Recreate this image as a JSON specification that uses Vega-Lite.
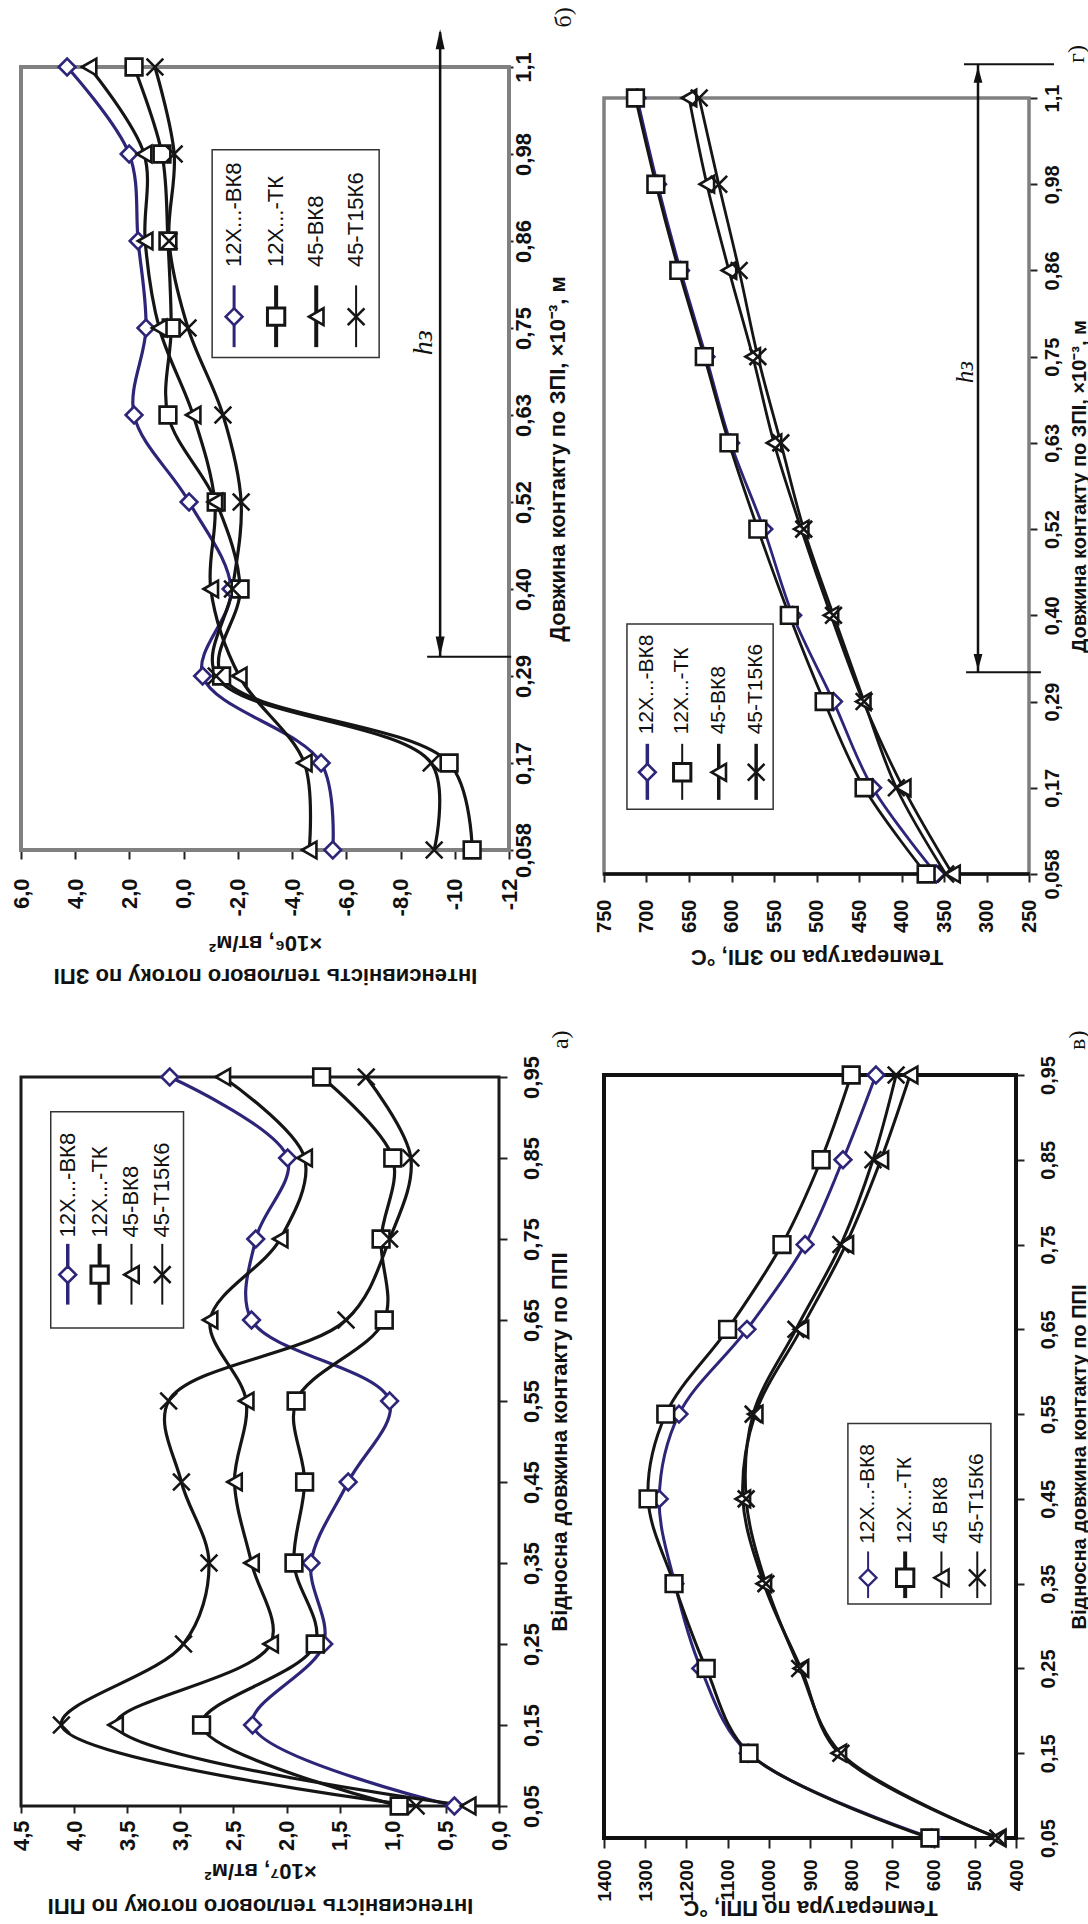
{
"$schema": "https://vega.github.io/schema/vega-lite/v6.json",
"padding": 0,
"background": "white",
"config": {
  "font": "Liberation Sans",
  "view": {"stroke": null},
  "axis": {"labelColor": "#111", "titleColor": "#111", "labelOverlap": false, "labelFlush": false, "labelBound": false, "domain": false, "tickColor": "#222", "tickWidth": 2, "gridColor": "#222", "gridWidth": 1.8, "gridOpacity": 1, "labelFontWeight": "bold", "titleFontWeight": "bold", "labelFont": "Liberation Sans", "titleFont": "Liberation Sans"},
  "axisX": {"labelAngle": 270, "labelAlign": "right", "labelBaseline": "middle", "titleAngle": 180, "titleBaseline": "bottom", "titleAlign": "center"},
  "axisY": {"labelAngle": 270, "labelAlign": "center", "labelBaseline": "top", "titleAngle": 270, "titleBaseline": "top", "titleAlign": "center"}
},
"datasets": {
  "one": [{}],
  "q3": [
    {"s":"12Х...-ВК8","i":0,"v":-5.5},{"s":"12Х...-ВК8","i":1,"v":-5.07},{"s":"12Х...-ВК8","i":2,"v":-0.7},{"s":"12Х...-ВК8","i":3,"v":-1.75},{"s":"12Х...-ВК8","i":4,"v":-0.2},{"s":"12Х...-ВК8","i":5,"v":1.83},{"s":"12Х...-ВК8","i":6,"v":1.39},{"s":"12Х...-ВК8","i":7,"v":1.68},{"s":"12Х...-ВК8","i":8,"v":2.01},{"s":"12Х...-ВК8","i":9,"v":4.3},
    {"s":"12Х...-ТК","i":0,"v":-10.64},{"s":"12Х...-ТК","i":1,"v":-9.79},{"s":"12Х...-ТК","i":2,"v":-1.4},{"s":"12Х...-ТК","i":3,"v":-2.08},{"s":"12Х...-ТК","i":4,"v":-1.2},{"s":"12Х...-ТК","i":5,"v":0.58},{"s":"12Х...-ТК","i":6,"v":0.46},{"s":"12Х...-ТК","i":7,"v":0.58},{"s":"12Х...-ТК","i":8,"v":0.8},{"s":"12Х...-ТК","i":9,"v":1.83},
    {"s":"45-ВК8","i":0,"v":-4.63},{"s":"45-ВК8","i":1,"v":-4.45},{"s":"45-ВК8","i":2,"v":-2.05},{"s":"45-ВК8","i":3,"v":-1.0},{"s":"45-ВК8","i":4,"v":-1.15},{"s":"45-ВК8","i":5,"v":-0.35},{"s":"45-ВК8","i":6,"v":0.9},{"s":"45-ВК8","i":7,"v":1.42},{"s":"45-ВК8","i":8,"v":1.46},{"s":"45-ВК8","i":9,"v":3.49},
    {"s":"45-Т15К6","i":0,"v":-9.24},{"s":"45-Т15К6","i":1,"v":-9.13},{"s":"45-Т15К6","i":2,"v":-1.2},{"s":"45-Т15К6","i":3,"v":-1.8},{"s":"45-Т15К6","i":4,"v":-2.12},{"s":"45-Т15К6","i":5,"v":-1.45},{"s":"45-Т15К6","i":6,"v":-0.16},{"s":"45-Т15К6","i":7,"v":0.54},{"s":"45-Т15К6","i":8,"v":0.35},{"s":"45-Т15К6","i":9,"v":1.06}
  ],
  "t3": [
    {"s":"12Х...-ВК8","i":0,"v":359},{"s":"12Х...-ВК8","i":1,"v":434},{"s":"12Х...-ВК8","i":2,"v":480},{"s":"12Х...-ВК8","i":3,"v":528},{"s":"12Х...-ВК8","i":4,"v":562},{"s":"12Х...-ВК8","i":5,"v":601},{"s":"12Х...-ВК8","i":6,"v":630},{"s":"12Х...-ВК8","i":7,"v":660},{"s":"12Х...-ВК8","i":8,"v":687},{"s":"12Х...-ВК8","i":9,"v":711},
    {"s":"12Х...-ТК","i":0,"v":371},{"s":"12Х...-ТК","i":1,"v":444},{"s":"12Х...-ТК","i":2,"v":491},{"s":"12Х...-ТК","i":3,"v":532},{"s":"12Х...-ТК","i":4,"v":569},{"s":"12Х...-ТК","i":5,"v":603},{"s":"12Х...-ТК","i":6,"v":632},{"s":"12Х...-ТК","i":7,"v":662},{"s":"12Х...-ТК","i":8,"v":689},{"s":"12Х...-ТК","i":9,"v":713},
    {"s":"45-ВК8","i":0,"v":340},{"s":"45-ВК8","i":1,"v":398},{"s":"45-ВК8","i":2,"v":445},{"s":"45-ВК8","i":3,"v":483},{"s":"45-ВК8","i":4,"v":518},{"s":"45-ВК8","i":5,"v":550},{"s":"45-ВК8","i":6,"v":575},{"s":"45-ВК8","i":7,"v":603},{"s":"45-ВК8","i":8,"v":629},{"s":"45-ВК8","i":9,"v":650},
    {"s":"45-Т15К6","i":0,"v":348},{"s":"45-Т15К6","i":1,"v":406},{"s":"45-Т15К6","i":2,"v":444},{"s":"45-Т15К6","i":3,"v":480},{"s":"45-Т15К6","i":4,"v":515},{"s":"45-Т15К6","i":5,"v":542},{"s":"45-Т15К6","i":6,"v":569},{"s":"45-Т15К6","i":7,"v":591},{"s":"45-Т15К6","i":8,"v":615},{"s":"45-Т15К6","i":9,"v":638}
  ],
  "q1": [
    {"s":"12Х...-ВК8","i":0,"v":0.42},{"s":"12Х...-ВК8","i":1,"v":2.32},{"s":"12Х...-ВК8","i":2,"v":1.65},{"s":"12Х...-ВК8","i":3,"v":1.77},{"s":"12Х...-ВК8","i":4,"v":1.42},{"s":"12Х...-ВК8","i":5,"v":1.03},{"s":"12Х...-ВК8","i":6,"v":2.33},{"s":"12Х...-ВК8","i":7,"v":2.29},{"s":"12Х...-ВК8","i":8,"v":1.99},{"s":"12Х...-ВК8","i":9,"v":3.1},
    {"s":"12Х...-ТК","i":0,"v":0.94},{"s":"12Х...-ТК","i":1,"v":2.8},{"s":"12Х...-ТК","i":2,"v":1.73},{"s":"12Х...-ТК","i":3,"v":1.93},{"s":"12Х...-ТК","i":4,"v":1.83},{"s":"12Х...-ТК","i":5,"v":1.91},{"s":"12Х...-ТК","i":6,"v":1.08},{"s":"12Х...-ТК","i":7,"v":1.11},{"s":"12Х...-ТК","i":8,"v":1.0},{"s":"12Х...-ТК","i":9,"v":1.67},
    {"s":"45-ВК8","i":0,"v":0.29},{"s":"45-ВК8","i":1,"v":3.61},{"s":"45-ВК8","i":2,"v":2.15},{"s":"45-ВК8","i":3,"v":2.33},{"s":"45-ВК8","i":4,"v":2.49},{"s":"45-ВК8","i":5,"v":2.38},{"s":"45-ВК8","i":6,"v":2.72},{"s":"45-ВК8","i":7,"v":2.06},{"s":"45-ВК8","i":8,"v":1.83},{"s":"45-ВК8","i":9,"v":2.6},
    {"s":"45-Т15К6","i":0,"v":0.78},{"s":"45-Т15К6","i":1,"v":4.12},{"s":"45-Т15К6","i":2,"v":2.97},{"s":"45-Т15К6","i":3,"v":2.73},{"s":"45-Т15К6","i":4,"v":2.99},{"s":"45-Т15К6","i":5,"v":3.11},{"s":"45-Т15К6","i":6,"v":1.44},{"s":"45-Т15К6","i":7,"v":1.03},{"s":"45-Т15К6","i":8,"v":0.83},{"s":"45-Т15К6","i":9,"v":1.25}
  ],
  "t1": [
    {"s":"12Х...-ВК8","i":0,"v":605},{"s":"12Х...-ВК8","i":1,"v":1050},{"s":"12Х...-ВК8","i":2,"v":1165},{"s":"12Х...-ВК8","i":3,"v":1228},{"s":"12Х...-ВК8","i":4,"v":1266},{"s":"12Х...-ВК8","i":5,"v":1218},{"s":"12Х...-ВК8","i":6,"v":1053},{"s":"12Х...-ВК8","i":7,"v":912},{"s":"12Х...-ВК8","i":8,"v":820},{"s":"12Х...-ВК8","i":9,"v":740},
    {"s":"12Х...-ТК","i":0,"v":609},{"s":"12Х...-ТК","i":1,"v":1048},{"s":"12Х...-ТК","i":2,"v":1152},{"s":"12Х...-ТК","i":3,"v":1230},{"s":"12Х...-ТК","i":4,"v":1293},{"s":"12Х...-ТК","i":5,"v":1250},{"s":"12Х...-ТК","i":6,"v":1100},{"s":"12Х...-ТК","i":7,"v":968},{"s":"12Х...-ТК","i":8,"v":873},{"s":"12Х...-ТК","i":9,"v":800},
    {"s":"45-ВК8","i":0,"v":443},{"s":"45-ВК8","i":1,"v":830},{"s":"45-ВК8","i":2,"v":922},{"s":"45-ВК8","i":3,"v":1012},{"s":"45-ВК8","i":4,"v":1063},{"s":"45-ВК8","i":5,"v":1033},{"s":"45-ВК8","i":6,"v":922},{"s":"45-ВК8","i":7,"v":813},{"s":"45-ВК8","i":8,"v":728},{"s":"45-ВК8","i":9,"v":657},
    {"s":"45-Т15К6","i":0,"v":444},{"s":"45-Т15К6","i":1,"v":825},{"s":"45-Т15К6","i":2,"v":925},{"s":"45-Т15К6","i":3,"v":1007},{"s":"45-Т15К6","i":4,"v":1055},{"s":"45-Т15К6","i":5,"v":1038},{"s":"45-Т15К6","i":6,"v":934},{"s":"45-Т15К6","i":7,"v":825},{"s":"45-Т15К6","i":8,"v":747},{"s":"45-Т15К6","i":9,"v":691}
  ]
},
"spacing": 5,
"hconcat": [
 {"spacing": 10, "vconcat": [
  {"width": 488, "height": 783, "layer": [
    {"data":{"name":"one"},"mark":{"type":"rect","fill":"transparent","stroke":"#808080","strokeWidth":4},"encoding":{"x":{"datum":6,"type":"quantitative"},"x2":{"datum":-12},"y":{"datum":0,"type":"quantitative"},"y2":{"datum":9}}},
    {"data":{"name":"q3"},"mark":{"type":"line","interpolate":"catmull-rom","strokeWidth":3.2},
     "encoding":{
      "x":{"field":"v","type":"quantitative","scale":{"domain":[-12,6],"reverse":true,"nice":false,"zero":false},
        "axis":{"values":[6,4,2,0,-2,-4,-6,-8,-10,-12],"labelExpr":"(datum.value < 0 ? '-' : '') + replace(format(abs(datum.value), datum.value < -9 ? 'd' : '.1f'), '.', ',')","labelFontSize":22,"labelPadding":19,"tickSize":9,"gridWidth":2,"title":["Інтенсивність теплового потоку по ЗПІ","×10⁶, вт/м²"],"titleFontSize":22,"titleLineHeight":33,"titleY":113}},
      "y":{"field":"i","type":"quantitative","scale":{"domain":[0,9],"nice":false,"zero":false},
        "axis":{"orient":"right","values":[0,1,2,3,4,5,6,7,8,9],"labelExpr":"['0,058','0,17','0,29','0,40','0,52','0,63','0,75','0,86','0,98','1,1'][datum.value]","labelFontSize":22,"labelPadding":0,"tickSize":4,"gridWidth":1.6,"title":"Довжина контакту по ЗПІ, ×10⁻³, м","titleFontSize":22,"titleX":38}},
      "order":{"field":"i","type":"quantitative"},
      "stroke":{"field":"s","type":"nominal","scale":{"domain":["12Х...-ВК8","12Х...-ТК","45-ВК8","45-Т15К6"],"range":["#2d2578","#151515","#151515","#151515"]},"legend":null}}},
    {"data":{"name":"q3"},"mark":{"type":"point","filled":true,"fill":"white","size":280,"strokeWidth":2.6,"opacity":1},
     "encoding":{"x":{"field":"v","type":"quantitative"},"y":{"field":"i","type":"quantitative"},
      "stroke":{"field":"s","type":"nominal","legend":null},
      "shape":{"field":"s","type":"nominal","scale":{"domain":["12Х...-ВК8","12Х...-ТК","45-ВК8","45-Т15К6"],"range":["diamond","square","triangle-left","M-1,-1L1,1M-1,1L1,-1"]},"legend":null}}},
    {"data":{"name":"one"},"mark":{"type":"rect","fill":"white","stroke":"#333","strokeWidth":1.5},"encoding":{"x":{"datum":-1.05,"type":"quantitative"},"x2":{"datum":-7.21},"y":{"datum":8.05,"type":"quantitative"},"y2":{"datum":5.66}}},
    {"data":{"name":"one"},"encoding":{"x":{"datum":-1.86,"type":"quantitative"}},"layer":[
      {"mark":{"type":"rule","stroke":"#2d2578","strokeWidth":3},"encoding":{"y":{"datum":6.49,"type":"quantitative"},"y2":{"datum":5.78}}},
      {"mark":{"type":"point","shape":"diamond","size":280,"filled":true,"fill":"white","stroke":"#2d2578","strokeWidth":2.6,"opacity":1},"encoding":{"y":{"datum":6.13,"type":"quantitative"}}},
      {"mark":{"type":"text","text":"12Х...-ВК8","angle":270,"align":"left","baseline":"middle","fontSize":22,"color":"#111"},"encoding":{"y":{"datum":6.7,"type":"quantitative"}}}]},
    {"data":{"name":"one"},"encoding":{"x":{"datum":-3.41,"type":"quantitative"}},"layer":[
      {"mark":{"type":"rule","stroke":"#151515","strokeWidth":4},"encoding":{"y":{"datum":6.49,"type":"quantitative"},"y2":{"datum":5.78}}},
      {"mark":{"type":"point","shape":"square","size":300,"filled":true,"fill":"white","stroke":"#151515","strokeWidth":3,"opacity":1},"encoding":{"y":{"datum":6.13,"type":"quantitative"}}},
      {"mark":{"type":"text","text":"12Х...-ТК","angle":270,"align":"left","baseline":"middle","fontSize":22,"color":"#111"},"encoding":{"y":{"datum":6.7,"type":"quantitative"}}}]},
    {"data":{"name":"one"},"encoding":{"x":{"datum":-4.89,"type":"quantitative"}},"layer":[
      {"mark":{"type":"rule","stroke":"#151515","strokeWidth":4},"encoding":{"y":{"datum":6.49,"type":"quantitative"},"y2":{"datum":5.78}}},
      {"mark":{"type":"point","shape":"triangle-left","size":280,"filled":true,"fill":"white","stroke":"#151515","strokeWidth":2.6,"opacity":1},"encoding":{"y":{"datum":6.13,"type":"quantitative"}}},
      {"mark":{"type":"text","text":"45-ВК8","angle":270,"align":"left","baseline":"middle","fontSize":22,"color":"#111"},"encoding":{"y":{"datum":6.7,"type":"quantitative"}}}]},
    {"data":{"name":"one"},"encoding":{"x":{"datum":-6.36,"type":"quantitative"}},"layer":[
      {"mark":{"type":"rule","stroke":"#151515","strokeWidth":2},"encoding":{"y":{"datum":6.49,"type":"quantitative"},"y2":{"datum":5.78}}},
      {"mark":{"type":"point","shape":"M-1,-1L1,1M-1,1L1,-1","size":280,"filled":true,"fill":"white","stroke":"#151515","strokeWidth":2.6,"opacity":1},"encoding":{"y":{"datum":6.13,"type":"quantitative"}}},
      {"mark":{"type":"text","text":"45-Т15К6","angle":270,"align":"left","baseline":"middle","fontSize":22,"color":"#111"},"encoding":{"y":{"datum":6.7,"type":"quantitative"}}}]},
    {"data":{"name":"one"},"mark":{"type":"rule","stroke":"#111","strokeWidth":2.5},"encoding":{"x":{"datum":-9.46,"type":"quantitative"},"y":{"datum":9.4,"type":"quantitative"},"y2":{"datum":2.22}}},
    {"data":{"name":"one"},"mark":{"type":"rule","stroke":"#111","strokeWidth":2},"encoding":{"x":{"datum":-8.98,"type":"quantitative"},"x2":{"datum":-12.08},"y":{"datum":2.22,"type":"quantitative"}}},
    {"data":{"name":"one"},"mark":{"type":"point","shape":"M0,-1L0.45,1L-0.45,1Z","size":400,"filled":true,"fill":"#111","strokeWidth":0,"opacity":1},"encoding":{"x":{"datum":-9.46,"type":"quantitative"},"y":{"datum":9.32,"type":"quantitative"}}},
    {"data":{"name":"one"},"mark":{"type":"point","shape":"M0,1L0.45,-1L-0.45,-1Z","size":400,"filled":true,"fill":"#111","strokeWidth":0,"opacity":1},"encoding":{"x":{"datum":-9.46,"type":"quantitative"},"y":{"datum":2.34,"type":"quantitative"}}},
    {"data":{"name":"one"},"mark":{"type":"text","text":"hз","angle":270,"align":"center","baseline":"middle","fontSize":28,"font":"Liberation Serif","fontStyle":"italic","color":"#111"},"encoding":{"x":{"datum":-8.87,"type":"quantitative"},"y":{"datum":5.83,"type":"quantitative"}}},
    {"data":{"name":"one"},"mark":{"type":"text","text":"б)","angle":270,"align":"center","baseline":"middle","fontSize":24,"font":"Liberation Serif","color":"#111"},"encoding":{"x":{"datum":-14.04,"type":"quantitative"},"y":{"datum":9.57,"type":"quantitative"}}},
    {"data":{"name":"one"},"mark":{"type":"rule","opacity":0},"encoding":{"x":{"datum":-3,"type":"quantitative"},"y":{"datum":9,"type":"quantitative"},"y2":{"datum":9.77}}},
    {"data":{"name":"one"},"mark":{"type":"rule","opacity":0},"encoding":{"x":{"datum":6.5,"type":"quantitative"},"y":{"datum":0,"type":"quantitative"},"y2":{"datum":-1.816}}},
    {"data":{"name":"one"},"mark":{"type":"rule","opacity":0},"encoding":{"y":{"datum":4.5,"type":"quantitative"},"x":{"datum":6,"type":"quantitative"},"x2":{"datum":6.738}}},
    {"data":{"name":"one"},"mark":{"type":"rule","opacity":0},"encoding":{"y":{"datum":4.5,"type":"quantitative"},"x":{"datum":-12,"type":"quantitative"},"x2":{"datum":-14.849}}}
  ]},
  {"width": 478, "height": 729, "layer": [
    {"data":{"name":"one"},"mark":{"type":"rect","fill":"transparent","stroke":"#1a1a1a","strokeWidth":3},"encoding":{"x":{"datum":4.5,"type":"quantitative"},"x2":{"datum":0},"y":{"datum":0,"type":"quantitative"},"y2":{"datum":9}}},
    {"data":{"name":"q1"},"mark":{"type":"line","interpolate":"catmull-rom","strokeWidth":3.2},
     "encoding":{
      "x":{"field":"v","type":"quantitative","scale":{"domain":[0,4.5],"reverse":true,"nice":false,"zero":false},
        "axis":{"values":[4.5,4,3.5,3,2.5,2,1.5,1,0.5,0],"labelExpr":"replace(format(datum.value, '.1f'), '.', ',')","labelFontSize":22,"labelPadding":7,"tickSize":7,"gridWidth":2,"title":["Інтенсивність теплового потоку по ППІ","×10⁷, вт/м²"],"titleFontSize":22,"titleLineHeight":35,"titleY":87}},
      "y":{"field":"i","type":"quantitative","scale":{"domain":[0,9],"nice":false,"zero":false},
        "axis":{"orient":"right","values":[0,1,2,3,4,5,6,7,8,9],"labelExpr":"['0,05','0,15','0,25','0,35','0,45','0,55','0,65','0,75','0,85','0,95'][datum.value]","labelFontSize":22,"labelPadding":14,"tickSize":8,"gridWidth":1.6,"title":"Відносна довжина контакту по ППІ","titleFontSize":22,"titleX":50}},
      "order":{"field":"i","type":"quantitative"},
      "stroke":{"field":"s","type":"nominal","scale":{"domain":["12Х...-ВК8","12Х...-ТК","45-ВК8","45-Т15К6"],"range":["#2d2578","#151515","#151515","#151515"]},"legend":null}}},
    {"data":{"name":"q1"},"mark":{"type":"point","filled":true,"fill":"white","size":280,"strokeWidth":2.6,"opacity":1},
     "encoding":{"x":{"field":"v","type":"quantitative"},"y":{"field":"i","type":"quantitative"},
      "stroke":{"field":"s","type":"nominal","legend":null},
      "shape":{"field":"s","type":"nominal","scale":{"domain":["12Х...-ВК8","12Х...-ТК","45-ВК8","45-Т15К6"],"range":["diamond","square","triangle-left","M-1,-1L1,1M-1,1L1,-1"]},"legend":null}}},
    {"data":{"name":"one"},"mark":{"type":"rect","fill":"white","stroke":"#333","strokeWidth":1.5},"encoding":{"x":{"datum":4.22,"type":"quantitative"},"x2":{"datum":2.97},"y":{"datum":8.57,"type":"quantitative"},"y2":{"datum":5.9}}},
    {"data":{"name":"one"},"encoding":{"x":{"datum":4.06,"type":"quantitative"}},"layer":[
      {"mark":{"type":"rule","stroke":"#2d2578","strokeWidth":3.5},"encoding":{"y":{"datum":6.94,"type":"quantitative"},"y2":{"datum":6.19}}},
      {"mark":{"type":"point","shape":"diamond","size":280,"filled":true,"fill":"white","stroke":"#2d2578","strokeWidth":2.6,"opacity":1},"encoding":{"y":{"datum":6.56,"type":"quantitative"}}},
      {"mark":{"type":"text","text":"12Х...-ВК8","angle":270,"align":"left","baseline":"middle","fontSize":22,"color":"#111"},"encoding":{"y":{"datum":7.02,"type":"quantitative"}}}]},
    {"data":{"name":"one"},"encoding":{"x":{"datum":3.76,"type":"quantitative"}},"layer":[
      {"mark":{"type":"rule","stroke":"#151515","strokeWidth":4},"encoding":{"y":{"datum":6.94,"type":"quantitative"},"y2":{"datum":6.19}}},
      {"mark":{"type":"point","shape":"square","size":300,"filled":true,"fill":"white","stroke":"#151515","strokeWidth":3,"opacity":1},"encoding":{"y":{"datum":6.56,"type":"quantitative"}}},
      {"mark":{"type":"text","text":"12Х...-ТК","angle":270,"align":"left","baseline":"middle","fontSize":22,"color":"#111"},"encoding":{"y":{"datum":7.02,"type":"quantitative"}}}]},
    {"data":{"name":"one"},"encoding":{"x":{"datum":3.46,"type":"quantitative"}},"layer":[
      {"mark":{"type":"rule","stroke":"#151515","strokeWidth":2},"encoding":{"y":{"datum":6.94,"type":"quantitative"},"y2":{"datum":6.19}}},
      {"mark":{"type":"point","shape":"triangle-left","size":280,"filled":true,"fill":"white","stroke":"#151515","strokeWidth":2.6,"opacity":1},"encoding":{"y":{"datum":6.56,"type":"quantitative"}}},
      {"mark":{"type":"text","text":"45-ВК8","angle":270,"align":"left","baseline":"middle","fontSize":22,"color":"#111"},"encoding":{"y":{"datum":7.02,"type":"quantitative"}}}]},
    {"data":{"name":"one"},"encoding":{"x":{"datum":3.17,"type":"quantitative"}},"layer":[
      {"mark":{"type":"rule","stroke":"#151515","strokeWidth":2},"encoding":{"y":{"datum":6.94,"type":"quantitative"},"y2":{"datum":6.19}}},
      {"mark":{"type":"point","shape":"M-1,-1L1,1M-1,1L1,-1","size":280,"filled":true,"fill":"white","stroke":"#151515","strokeWidth":2.6,"opacity":1},"encoding":{"y":{"datum":6.56,"type":"quantitative"}}},
      {"mark":{"type":"text","text":"45-Т15К6","angle":270,"align":"left","baseline":"middle","fontSize":22,"color":"#111"},"encoding":{"y":{"datum":7.02,"type":"quantitative"}}}]},
    {"data":{"name":"one"},"mark":{"type":"text","text":"а)","angle":270,"align":"center","baseline":"middle","fontSize":24,"font":"Liberation Serif","color":"#111"},"encoding":{"x":{"datum":-0.58,"type":"quantitative"},"y":{"datum":9.46,"type":"quantitative"}}},
    {"data":{"name":"one"},"mark":{"type":"rule","opacity":0},"encoding":{"x":{"datum":4.6,"type":"quantitative"},"y":{"datum":9,"type":"quantitative"},"y2":{"datum":9.728}}},
    {"data":{"name":"one"},"mark":{"type":"rule","opacity":0},"encoding":{"y":{"datum":4.5,"type":"quantitative"},"x":{"datum":4.5,"type":"quantitative"},"x2":{"datum":4.669}}},
    {"data":{"name":"one"},"mark":{"type":"rule","opacity":0},"encoding":{"y":{"datum":4.5,"type":"quantitative"},"x":{"datum":0,"type":"quantitative"},"x2":{"datum":-0.839}}}
  ]}
 ]},
 {"spacing": -68, "vconcat": [
  {"width": 425, "height": 1, "data": {"name": "one"}, "mark": {"type": "text", "text": ""}, "encoding": {}},
  {"spacing": 10, "vconcat": [
  {"width": 425, "height": 776, "layer": [
    {"data":{"name":"one"},"mark":{"type":"rect","fill":"transparent","stroke":"#808080","strokeWidth":3.5},"encoding":{"x":{"datum":750,"type":"quantitative"},"x2":{"datum":250},"y":{"datum":0,"type":"quantitative"},"y2":{"datum":9}}},
    {"data":{"name":"one"},"mark":{"type":"rule","stroke":"#111","strokeWidth":3.5},"encoding":{"x":{"datum":751,"type":"quantitative"},"x2":{"datum":249},"y":{"datum":0,"type":"quantitative"}}},
    {"data":{"name":"t3"},"mark":{"type":"line","interpolate":"catmull-rom","strokeWidth":2.8},
     "encoding":{
      "x":{"field":"v","type":"quantitative","scale":{"domain":[250,750],"reverse":true,"nice":false,"zero":false},
        "axis":{"values":[750,700,650,600,550,500,450,400,350,300,250],"labelExpr":"format(datum.value, 'd')","labelFontSize":20,"labelPadding":17,"tickSize":8,"gridWidth":1.8,"title":"Температура по ЗПІ, °С","titleFontSize":22,"titleY":70}},
      "y":{"field":"i","type":"quantitative","scale":{"domain":[0,9],"nice":false,"zero":false},
        "axis":{"orient":"right","values":[0,1,2,3,4,5,6,7,8,9],"labelExpr":"['0,058','0,17','0,29','0,40','0,52','0,63','0,75','0,86','0,98','1,1'][datum.value]","labelFontSize":20,"labelPadding":5,"tickSize":8,"gridWidth":1.6,"title":"Довжина контакту по ЗПІ, ×10⁻³, м","titleFontSize":20,"titleX":40}},
      "order":{"field":"i","type":"quantitative"},
      "stroke":{"field":"s","type":"nominal","scale":{"domain":["12Х...-ВК8","12Х...-ТК","45-ВК8","45-Т15К6"],"range":["#2d2578","#151515","#151515","#151515"]},"legend":null}}},
    {"data":{"name":"t3"},"mark":{"type":"point","filled":true,"fill":"white","size":280,"strokeWidth":2.6,"opacity":1},
     "encoding":{"x":{"field":"v","type":"quantitative"},"y":{"field":"i","type":"quantitative"},
      "stroke":{"field":"s","type":"nominal","legend":null},
      "shape":{"field":"s","type":"nominal","scale":{"domain":["12Х...-ВК8","12Х...-ТК","45-ВК8","45-Т15К6"],"range":["diamond","square","triangle-left","M-1,-1L1,1M-1,1L1,-1"]},"legend":null}}},
    {"data":{"name":"one"},"mark":{"type":"rect","fill":"white","stroke":"#333","strokeWidth":1.5},"encoding":{"x":{"datum":723,"type":"quantitative"},"x2":{"datum":551},"y":{"datum":2.9,"type":"quantitative"},"y2":{"datum":0.75}}},
    {"data":{"name":"one"},"encoding":{"x":{"datum":699,"type":"quantitative"}},"layer":[
      {"mark":{"type":"rule","stroke":"#2d2578","strokeWidth":3.5},"encoding":{"y":{"datum":1.51,"type":"quantitative"},"y2":{"datum":0.86}}},
      {"mark":{"type":"point","shape":"diamond","size":280,"filled":true,"fill":"white","stroke":"#2d2578","strokeWidth":2.6,"opacity":1},"encoding":{"y":{"datum":1.18,"type":"quantitative"}}},
      {"mark":{"type":"text","text":"12Х...-ВК8","angle":270,"align":"left","baseline":"middle","fontSize":21,"color":"#111"},"encoding":{"y":{"datum":1.62,"type":"quantitative"}}}]},
    {"data":{"name":"one"},"encoding":{"x":{"datum":658,"type":"quantitative"}},"layer":[
      {"mark":{"type":"rule","stroke":"#151515","strokeWidth":2},"encoding":{"y":{"datum":1.51,"type":"quantitative"},"y2":{"datum":0.86}}},
      {"mark":{"type":"point","shape":"square","size":300,"filled":true,"fill":"white","stroke":"#151515","strokeWidth":3,"opacity":1},"encoding":{"y":{"datum":1.18,"type":"quantitative"}}},
      {"mark":{"type":"text","text":"12Х...-ТК","angle":270,"align":"left","baseline":"middle","fontSize":21,"color":"#111"},"encoding":{"y":{"datum":1.62,"type":"quantitative"}}}]},
    {"data":{"name":"one"},"encoding":{"x":{"datum":615,"type":"quantitative"}},"layer":[
      {"mark":{"type":"rule","stroke":"#151515","strokeWidth":3.5},"encoding":{"y":{"datum":1.51,"type":"quantitative"},"y2":{"datum":0.86}}},
      {"mark":{"type":"point","shape":"triangle-left","size":280,"filled":true,"fill":"white","stroke":"#151515","strokeWidth":2.6,"opacity":1},"encoding":{"y":{"datum":1.18,"type":"quantitative"}}},
      {"mark":{"type":"text","text":"45-ВК8","angle":270,"align":"left","baseline":"middle","fontSize":21,"color":"#111"},"encoding":{"y":{"datum":1.62,"type":"quantitative"}}}]},
    {"data":{"name":"one"},"encoding":{"x":{"datum":571,"type":"quantitative"}},"layer":[
      {"mark":{"type":"rule","stroke":"#151515","strokeWidth":3.5},"encoding":{"y":{"datum":1.51,"type":"quantitative"},"y2":{"datum":0.86}}},
      {"mark":{"type":"point","shape":"M-1,-1L1,1M-1,1L1,-1","size":280,"filled":true,"fill":"white","stroke":"#151515","strokeWidth":2.6,"opacity":1},"encoding":{"y":{"datum":1.18,"type":"quantitative"}}},
      {"mark":{"type":"text","text":"45-Т15К6","angle":270,"align":"left","baseline":"middle","fontSize":21,"color":"#111"},"encoding":{"y":{"datum":1.62,"type":"quantitative"}}}]},
    {"data":{"name":"one"},"mark":{"type":"rule","stroke":"#111","strokeWidth":2.5},"encoding":{"x":{"datum":310,"type":"quantitative"},"y":{"datum":9.39,"type":"quantitative"},"y2":{"datum":2.34}}},
    {"data":{"name":"one"},"mark":{"type":"rule","stroke":"#111","strokeWidth":2},"encoding":{"x":{"datum":326.5,"type":"quantitative"},"x2":{"datum":220.6},"y":{"datum":9.39,"type":"quantitative"}}},
    {"data":{"name":"one"},"mark":{"type":"rule","stroke":"#111","strokeWidth":2},"encoding":{"x":{"datum":324,"type":"quantitative"},"x2":{"datum":236},"y":{"datum":2.34,"type":"quantitative"}}},
    {"data":{"name":"one"},"mark":{"type":"point","shape":"M0,-1L0.55,1L-0.55,1Z","size":256,"filled":true,"fill":"#111","strokeWidth":0,"opacity":1},"encoding":{"x":{"datum":310,"type":"quantitative"},"y":{"datum":9.27,"type":"quantitative"}}},
    {"data":{"name":"one"},"mark":{"type":"point","shape":"M0,1L0.55,-1L-0.55,-1Z","size":256,"filled":true,"fill":"#111","strokeWidth":0,"opacity":1},"encoding":{"x":{"datum":310,"type":"quantitative"},"y":{"datum":2.46,"type":"quantitative"}}},
    {"data":{"name":"one"},"mark":{"type":"text","text":"hз","angle":270,"align":"center","baseline":"middle","fontSize":25,"font":"Liberation Serif","fontStyle":"italic","color":"#111"},"encoding":{"x":{"datum":325,"type":"quantitative"},"y":{"datum":5.82,"type":"quantitative"}}},
    {"data":{"name":"one"},"mark":{"type":"text","text":"г)","angle":270,"align":"center","baseline":"middle","fontSize":24,"font":"Liberation Serif","color":"#111"},"encoding":{"x":{"datum":193,"type":"quantitative"},"y":{"datum":9.51,"type":"quantitative"}}},
    {"data":{"name":"one"},"mark":{"type":"rule","opacity":0},"encoding":{"x":{"datum":500,"type":"quantitative"},"y":{"datum":9,"type":"quantitative"},"y2":{"datum":10.07}}},
    {"data":{"name":"one"},"mark":{"type":"rule","opacity":0},"encoding":{"x":{"datum":752,"type":"quantitative"},"y":{"datum":0,"type":"quantitative"},"y2":{"datum":-1.624}}},
    {"data":{"name":"one"},"mark":{"type":"rule","opacity":0},"encoding":{"y":{"datum":4.5,"type":"quantitative"},"x":{"datum":750,"type":"quantitative"},"x2":{"datum":753.5}}}
  ]},
  {"width": 412, "height": 763, "layer": [
    {"data":{"name":"one"},"mark":{"type":"rect","fill":"transparent","stroke":"#111","strokeWidth":4},"encoding":{"x":{"datum":1400,"type":"quantitative"},"x2":{"datum":400},"y":{"datum":0,"type":"quantitative"},"y2":{"datum":9}}},
    {"data":{"name":"t1"},"mark":{"type":"line","interpolate":"catmull-rom","strokeWidth":3},
     "encoding":{
      "x":{"field":"v","type":"quantitative","scale":{"domain":[400,1400],"reverse":true,"nice":false,"zero":false},
        "axis":{"values":[1400,1300,1200,1100,1000,900,800,700,600,500,400],"labelExpr":"format(datum.value, 'd')","labelFontSize":19,"labelPadding":11,"tickSize":10,"gridWidth":2,"title":"Температура по ППІ, °С","titleFontSize":22,"titleY":57}},
      "y":{"field":"i","type":"quantitative","scale":{"domain":[0,9],"nice":false,"zero":false},
        "axis":{"orient":"right","values":[0,1,2,3,4,5,6,7,8,9],"labelExpr":"['0,05','0,15','0,25','0,35','0,45','0,55','0,65','0,75','0,85','0,95'][datum.value]","labelFontSize":20,"labelPadding":14,"tickSize":8,"gridWidth":1.8,"title":"Відносна довжина контакту по ППІ","titleFontSize":20,"titleX":53}},
      "order":{"field":"i","type":"quantitative"},
      "stroke":{"field":"s","type":"nominal","scale":{"domain":["12Х...-ВК8","12Х...-ТК","45-ВК8","45-Т15К6"],"range":["#2d2578","#151515","#151515","#151515"]},"legend":null}}},
    {"data":{"name":"t1"},"mark":{"type":"point","filled":true,"fill":"white","size":280,"strokeWidth":2.6,"opacity":1},
     "encoding":{"x":{"field":"v","type":"quantitative"},"y":{"field":"i","type":"quantitative"},
      "stroke":{"field":"s","type":"nominal","legend":null},
      "shape":{"field":"s","type":"nominal","scale":{"domain":["12Х...-ВК8","12Х...-ТК","45-ВК8","45-Т15К6"],"range":["diamond","square","triangle-left","M-1,-1L1,1M-1,1L1,-1"]},"legend":null}}},
    {"data":{"name":"one"},"mark":{"type":"rect","fill":"white","stroke":"#333","strokeWidth":1.5},"encoding":{"x":{"datum":808,"type":"quantitative"},"x2":{"datum":461},"y":{"datum":4.89,"type":"quantitative"},"y2":{"datum":2.76}}},
    {"data":{"name":"one"},"encoding":{"x":{"datum":759,"type":"quantitative"}},"layer":[
      {"mark":{"type":"rule","stroke":"#2d2578","strokeWidth":2},"encoding":{"y":{"datum":3.38,"type":"quantitative"},"y2":{"datum":2.83}}},
      {"mark":{"type":"point","shape":"diamond","size":280,"filled":true,"fill":"white","stroke":"#2d2578","strokeWidth":2.4,"opacity":1},"encoding":{"y":{"datum":3.07,"type":"quantitative"}}},
      {"mark":{"type":"text","text":"12Х...-ВК8","angle":270,"align":"left","baseline":"middle","fontSize":21,"color":"#111"},"encoding":{"y":{"datum":3.47,"type":"quantitative"}}}]},
    {"data":{"name":"one"},"encoding":{"x":{"datum":669,"type":"quantitative"}},"layer":[
      {"mark":{"type":"rule","stroke":"#151515","strokeWidth":4},"encoding":{"y":{"datum":3.38,"type":"quantitative"},"y2":{"datum":2.83}}},
      {"mark":{"type":"point","shape":"square","size":300,"filled":true,"fill":"white","stroke":"#151515","strokeWidth":3,"opacity":1},"encoding":{"y":{"datum":3.07,"type":"quantitative"}}},
      {"mark":{"type":"text","text":"12Х...-ТК","angle":270,"align":"left","baseline":"middle","fontSize":21,"color":"#111"},"encoding":{"y":{"datum":3.47,"type":"quantitative"}}}]},
    {"data":{"name":"one"},"encoding":{"x":{"datum":581,"type":"quantitative"}},"layer":[
      {"mark":{"type":"rule","stroke":"#151515","strokeWidth":2},"encoding":{"y":{"datum":3.38,"type":"quantitative"},"y2":{"datum":2.83}}},
      {"mark":{"type":"point","shape":"triangle-left","size":280,"filled":true,"fill":"white","stroke":"#151515","strokeWidth":2.4,"opacity":1},"encoding":{"y":{"datum":3.07,"type":"quantitative"}}},
      {"mark":{"type":"text","text":"45 ВК8","angle":270,"align":"left","baseline":"middle","fontSize":21,"color":"#111"},"encoding":{"y":{"datum":3.47,"type":"quantitative"}}}]},
    {"data":{"name":"one"},"encoding":{"x":{"datum":494,"type":"quantitative"}},"layer":[
      {"mark":{"type":"rule","stroke":"#151515","strokeWidth":2},"encoding":{"y":{"datum":3.38,"type":"quantitative"},"y2":{"datum":2.83}}},
      {"mark":{"type":"point","shape":"M-1,-1L1,1M-1,1L1,-1","size":280,"filled":true,"fill":"white","stroke":"#151515","strokeWidth":2.4,"opacity":1},"encoding":{"y":{"datum":3.07,"type":"quantitative"}}},
      {"mark":{"type":"text","text":"45-Т15К6","angle":270,"align":"left","baseline":"middle","fontSize":21,"color":"#111"},"encoding":{"y":{"datum":3.47,"type":"quantitative"}}}]},
    {"data":{"name":"one"},"mark":{"type":"text","text":"в)","angle":270,"align":"center","baseline":"middle","fontSize":24,"font":"Liberation Serif","color":"#111"},"encoding":{"x":{"datum":250,"type":"quantitative"},"y":{"datum":9.41,"type":"quantitative"}}},
    {"data":{"name":"one"},"mark":{"type":"rule","opacity":0},"encoding":{"x":{"datum":1405,"type":"quantitative"},"y":{"datum":9,"type":"quantitative"},"y2":{"datum":9.578}}},
    {"data":{"name":"one"},"mark":{"type":"rule","opacity":0},"encoding":{"y":{"datum":4.5,"type":"quantitative"},"x":{"datum":1400,"type":"quantitative"},"x2":{"datum":1414.6}}}
  ]}
  ]}
 ]}
]
}
